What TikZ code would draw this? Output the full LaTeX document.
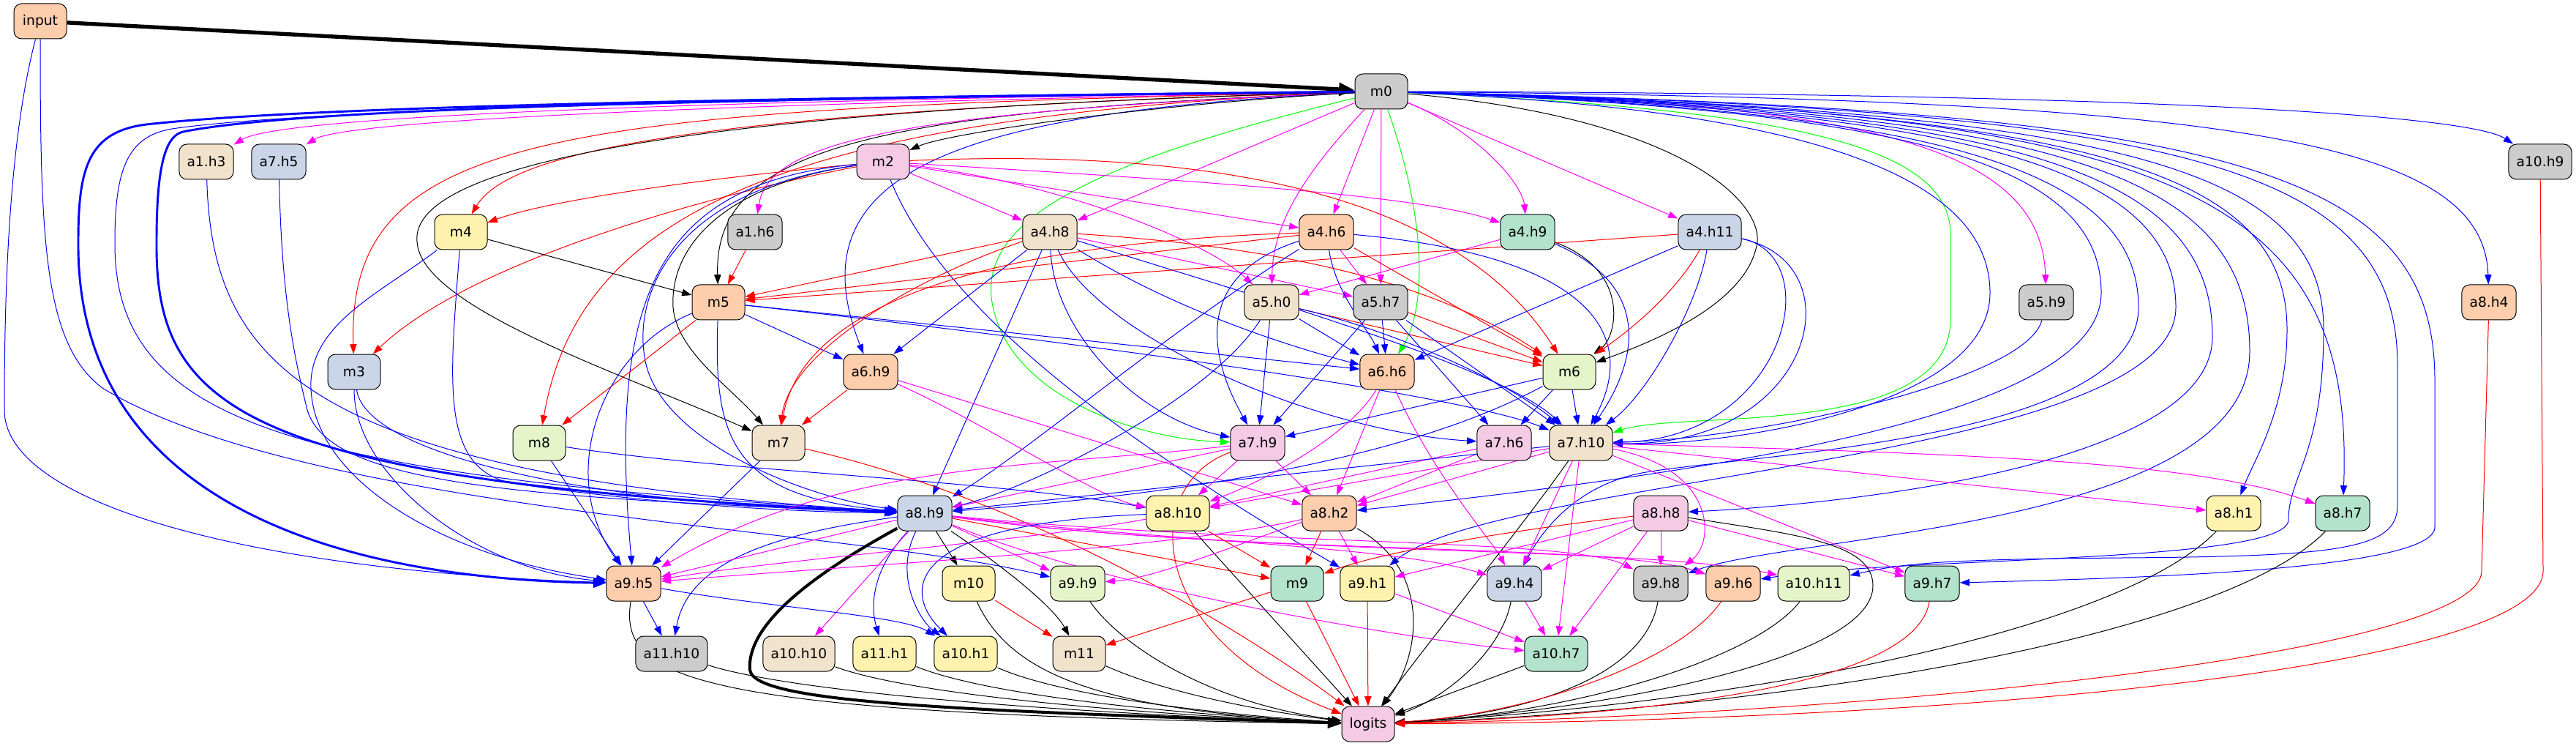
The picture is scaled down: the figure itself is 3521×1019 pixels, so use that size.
\documentclass[tikz,border=0pt]{standalone}
\usepackage{fontspec}
\setmainfont{DejaVu Sans}
\usepackage{xcolor}
\usepackage{tikz}
\usetikzlibrary{arrows.meta}
\usetikzlibrary{backgrounds}
\definecolor{pmint}{HTML}{B3E2CD}
\definecolor{ppeach}{HTML}{FDCDAC}
\definecolor{pblue}{HTML}{CBD5E8}
\definecolor{ppink}{HTML}{F4CAE4}
\definecolor{plime}{HTML}{E6F5C9}
\definecolor{pyellow}{HTML}{FFF2AE}
\definecolor{pbeige}{HTML}{F1E2CC}
\definecolor{pgrey}{HTML}{CCCCCC}
\definecolor{ered}{HTML}{FF0000}
\definecolor{eblue}{HTML}{0000FF}
\definecolor{emag}{HTML}{FF00FF}
\definecolor{egreen}{HTML}{00FF00}

\begin{document}
\begin{tikzpicture}[
    x=0.75pt, y=-0.75pt,
    every node/.style={font=\fontsize{14}{16}\selectfont},
    hd/.style={draw, line width=0.75pt, rounded corners=8pt,
      minimum width=54pt, minimum height=36pt, inner xsep=8pt},
    arr/.style={-{Triangle[length=10pt, width=7pt]}, line width=0.75pt},
    arrk/.style={arr, black},
    arrr/.style={arr, ered},
    arrb/.style={arr, eblue},
    arrm/.style={arr, emag},
    arrg/.style={arr, egreen},
    heavy/.style={line width=2.2pt, -{Triangle[length=13pt, width=10pt]}},
  ]
  \useasboundingbox (0,0) rectangle (3521,1019);

  % ── Nodes ────────────────────────────────────────────────────────────────

  % Level 0
  \node[hd, fill=ppeach]  (input)  at (55,29)     {input};

  % Level 1
  \node[hd, fill=pgrey]   (m0)     at (1888,125)  {m0};

  % Level 2
  \node[hd, fill=pbeige]  (a1h3)   at (282,221)   {a1.h3};
  \node[hd, fill=pblue]   (a7h5)   at (381,221)   {a7.h5};
  \node[hd, fill=ppink]   (m2)     at (1207,221)  {m2};
  \node[hd, fill=pgrey]   (a10h9)  at (3472,221)  {a10.h9};

  % Level 3
  \node[hd, fill=pyellow] (m4)     at (630,317)   {m4};
  \node[hd, fill=pgrey]   (a1h6)   at (1032,317)  {a1.h6};
  \node[hd, fill=pbeige]  (a4h8)   at (1435,317)  {a4.h8};
  \node[hd, fill=ppeach]  (a4h6)   at (1813,317)  {a4.h6};
  \node[hd, fill=pmint]   (a4h9)   at (2088,317)  {a4.h9};
  \node[hd, fill=pblue]   (a4h11)  at (2337,317)  {a4.h11};

  % Level 4
  \node[hd, fill=ppeach]  (m5)     at (982,413)   {m5};
  \node[hd, fill=pbeige]  (a5h0)   at (1738,413)  {a5.h0};
  \node[hd, fill=pgrey]   (a5h7)   at (1887,413)  {a5.h7};
  \node[hd, fill=pgrey]   (a5h9)   at (2797,413)  {a5.h9};
  \node[hd, fill=ppeach]  (a8h4)   at (3402,413)  {a8.h4};

  % Level 5
  \node[hd, fill=pblue]   (m3)     at (484,508)   {m3};
  \node[hd, fill=ppeach]  (a6h9)   at (1190,508)  {a6.h9};
  \node[hd, fill=ppeach]  (a6h6)   at (1896,508)  {a6.h6};
  \node[hd, fill=plime]   (m6)     at (2145,508)  {m6};

  % Level 6
  \node[hd, fill=plime]   (m8)     at (737,605)   {m8};
  \node[hd, fill=pbeige]  (m7)     at (1064,605)  {m7};
  \node[hd, fill=ppink]   (a7h9)   at (1719,605)  {a7.h9};
  \node[hd, fill=ppink]   (a7h6)   at (2056,605)  {a7.h6};
  \node[hd, fill=pbeige]  (a7h10)  at (2161,605)  {a7.h10};

  % Level 7
  \node[hd, fill=pblue]   (a8h9)   at (1264,701)  {a8.h9};
  \node[hd, fill=pyellow] (a8h10)  at (1610,701)  {a8.h10};
  \node[hd, fill=ppeach]  (a8h2)   at (1817,701)  {a8.h2};
  \node[hd, fill=ppink]   (a8h8)   at (2270,701)  {a8.h8};
  \node[hd, fill=pyellow] (a8h1)   at (3053,701)  {a8.h1};
  \node[hd, fill=pmint]   (a8h7)   at (3202,701)  {a8.h7};

  % Level 8
  \node[hd, fill=ppeach]  (a9h5)   at (866,797)   {a9.h5};
  \node[hd, fill=pyellow] (m10)    at (1324,797)  {m10};
  \node[hd, fill=plime]   (a9h9)   at (1473,797)  {a9.h9};
  \node[hd, fill=pmint]   (m9)     at (1773,797)  {m9};
  \node[hd, fill=pyellow] (a9h1)   at (1869,797)  {a9.h1};
  \node[hd, fill=pblue]   (a9h4)   at (2070,797)  {a9.h4};
  \node[hd, fill=pgrey]   (a9h8)   at (2270,797)  {a9.h8};
  \node[hd, fill=ppeach]  (a9h6)   at (2369,797)  {a9.h6};
  \node[hd, fill=plime]   (a10h11) at (2479,797)  {a10.h11};
  \node[hd, fill=pmint]   (a9h7)   at (2641,797)  {a9.h7};

  % Level 9
  \node[hd, fill=pgrey]   (a11h10) at (918,893)   {a11.h10};
  \node[hd, fill=pbeige]  (a10h10) at (1092,893)  {a10.h10};
  \node[hd, fill=pyellow] (a11h1)  at (1209,893)  {a11.h1};
  \node[hd, fill=pyellow] (a10h1)  at (1320,893)  {a10.h1};
  \node[hd, fill=pbeige]  (m11)    at (1475,893)  {m11};
  \node[hd, fill=pmint]   (a10h7)  at (2127,893)  {a10.h7};

  % Level 10
  \node[hd, fill=ppink]   (logits) at (1870,989)  {logits};

  % ── Edges ────────────────────────────────────────────────────────────────

  \begin{scope}[on background layer]

  % input
  \draw[arrk, line width=4pt, -{Triangle[length=16pt, width=13pt]}] (input) -- (m0);
  \draw[arrb] (input) .. controls (10,200) and (6,420) .. (6,560) .. controls (6,690) and (350,780) .. (a9h5);
  \draw[arrb] (input) .. controls (55,330) and (60,470) .. (140,530) .. controls (420,700) and (1150,720) .. (a9h9);

  % m0 → left side
  \draw[arrm] (m0) .. controls (900,138) and (380,160) .. (a1h3);
  \draw[arrm] (m0) .. controls (950,142) and (470,165) .. (a7h5);
  \draw[arrr] (m0) .. controls (1000,150) and (700,200) .. (m4);
  \draw[arrr] (m0) .. controls (750,148) and (474,180) .. (m3);
  \draw[arrk] (m0) .. controls (1200,152) and (975,200) .. (m5);
  \draw[arrk] (m0) .. controls (900,150) and (560,230) .. (570,330) .. controls (575,420) and (850,510) .. (m7);
  \draw[arrr] (m0) .. controls (1050,158) and (790,300) .. (m8);
  \draw[arrm] (m0) .. controls (1250,152) and (1050,190) .. (a1h6);
  \draw[arrb] (m0) .. controls (1320,152) and (1080,230) .. (a6h9);
  \draw[arrb, heavy] (m0) .. controls (900,135) and (400,150) .. (250,180) .. controls (225,186) and (214,230) .. (214,330) .. controls (212,560) and (330,660) .. (a8h9);
  \draw[arrb] (m0) .. controls (900,137) and (400,152) .. (235,176) .. controls (175,186) and (157,230) .. (157,330) .. controls (155,580) and (400,650) .. (a8h9);
  \draw[arrb, heavy] (m0) .. controls (900,135) and (400,148) .. (200,170) .. controls (120,180) and (107,230) .. (107,330) .. controls (104,680) and (450,790) .. (a9h5);

  % m0 → middle
  \draw[arrk] (m0) .. controls (1600,140) and (1300,180) .. (m2);
  \draw[arrm] (m0) -- (a4h8);
  \draw[arrm] (m0) .. controls (1790,230) and (1740,300) .. (a5h0);
  \draw[arrm] (m0) -- (a4h6);
  \draw[arrm] (m0) -- (a5h7);
  \draw[arrg] (m0) .. controls (1950,300) and (1950,420) .. (a6h6);
  \draw[arrm] (m0) .. controls (2020,180) and (2080,250) .. (a4h9);
  \draw[arrm] (m0) -- (a4h11);
  \draw[arrk] (m0) .. controls (2300,160) and (2420,280) .. (2400,340) .. controls (2380,420) and (2250,470) .. (m6);
  \draw[arrg] (m0) .. controls (1500,220) and (1320,300) .. (1360,430) .. controls (1390,540) and (1550,600) .. (a7h9);
  \draw[arrg] (m0) .. controls (2450,150) and (2666,200) .. (2666,320) -- (2666,440) .. controls (2660,600) and (2300,560) .. (a7h10);

  % m0 → right side (down the right and back)
  \draw[arrm] (m0) .. controls (2550,140) and (2790,200) .. (a5h9);
  \draw[arrb] (m0) .. controls (3050,135) and (3395,190) .. (a8h4);
  \draw[arrb] (m0) .. controls (3000,128) and (3380,160) .. (a10h9);
  \draw[arrb] (m0) .. controls (2500,150) and (2720,250) .. (2720,400) .. controls (2720,560) and (2350,610) .. (a7h10);
  \draw[arrb] (m0) .. controls (2600,150) and (2872,220) .. (2872,400) .. controls (2872,560) and (2400,640) .. (a8h2);
  \draw[arrb] (m0) .. controls (2650,150) and (2923,230) .. (2923,420) .. controls (2923,600) and (2400,620) .. (2250,645) .. controls (2160,660) and (2110,720) .. (a9h4);
  \draw[arrb] (m0) .. controls (2700,150) and (2974,230) .. (2974,420) .. controls (2974,630) and (2050,650) .. (a9h1);
  \draw[arrb] (m0) .. controls (2750,150) and (3024,230) .. (3024,460) .. controls (3024,640) and (2500,690) .. (a8h8);
  \draw[arrb] (m0) .. controls (2800,150) and (3075,230) .. (3075,480) .. controls (3075,720) and (2450,730) .. (a9h8);
  \draw[arrb] (m0) .. controls (2850,150) and (3126,230) .. (3126,450) .. controls (3126,560) and (3080,630) .. (a8h1);
  \draw[arrb] (m0) .. controls (2900,150) and (3176,230) .. (3176,450) .. controls (3176,620) and (3128,650) .. (3128,710) .. controls (3128,770) and (2600,760) .. (a9h6);
  \draw[arrb] (m0) .. controls (2950,150) and (3220,250) .. (a8h7);
  \draw[arrb] (m0) .. controls (3000,150) and (3277,230) .. (3277,500) -- (3277,690) .. controls (3277,750) and (3200,760) .. (2900,762) .. controls (2650,764) and (2600,770) .. (a10h11);
  \draw[arrb] (m0) .. controls (3050,150) and (3328,230) .. (3328,520) -- (3328,720) .. controls (3328,780) and (2900,790) .. (a9h7);

  % m2
  \draw[arrr] (m2) .. controls (1000,240) and (760,270) .. (m4);
  \draw[arrr] (m2) .. controls (1000,260) and (650,350) .. (m3);
  \draw[arrk] (m2) .. controls (1000,250) and (915,330) .. (920,420) .. controls (925,480) and (1000,530) .. (m7);
  \draw[arrb] (m2) .. controls (900,250) and (830,400) .. (a9h5);
  \draw[arrb] (m2) .. controls (920,260) and (870,400) .. (880,480) .. controls (890,600) and (1100,680) .. (a8h9);
  \draw[arrb] (m2) .. controls (1300,450) and (1600,640) .. (a9h1);
  \draw[arrm] (m2) -- (a4h8);
  \draw[arrm] (m2) -- (a4h6);
  \draw[arrm] (m2) .. controls (1700,250) and (1950,270) .. (a4h9);
  \draw[arrm] (m2) .. controls (1450,250) and (1650,330) .. (a5h0);
  \draw[arrr] (m2) .. controls (1700,200) and (2000,280) .. (m6);

  % upper left heads and MLPs
  \draw[arrb] (a1h3) .. controls (290,500) and (420,650) .. (a8h9);
  \draw[arrb] (a7h5) .. controls (385,400) and (400,480) .. (420,560) .. controls (450,660) and (700,680) .. (a8h9);
  \draw[arrr] (a1h6) -- (m5);
  \draw[arrk] (m4) -- (m5);
  \draw[arrb] (m4) .. controls (520,400) and (430,440) .. (425,520) .. controls (420,650) and (600,760) .. (a9h5);
  \draw[arrb] (m4) .. controls (615,520) and (600,640) .. (700,660) .. controls (900,690) and (1100,700) .. (a8h9);
  \draw[arrb] (m3) .. controls (484,650) and (650,780) .. (a9h5);
  \draw[arrb] (m3) .. controls (500,620) and (800,690) .. (a8h9);
  \draw[arrb] (m8) -- (a9h5);
  \draw[arrb] (m8) .. controls (1000,645) and (1350,655) .. (a8h10);

  % m5
  \draw[arrr] (m5) -- (m8);
  \draw[arrb] (m5) .. controls (820,480) and (760,650) .. (a9h5);
  \draw[arrb] (m5) -- (a6h9);
  \draw[arrb] (m5) -- (a6h6);
  \draw[arrb] (m5) .. controls (1500,470) and (2000,540) .. (a7h10);
  \draw[arrb] (m5) .. controls (975,600) and (1000,680) .. (a8h9);

  % a4.h8
  \draw[arrr] (a4h8) -- (m5);
  \draw[arrr] (a4h8) .. controls (1250,380) and (1080,480) .. (m7);
  \draw[arrr] (a4h8) .. controls (1800,340) and (1980,400) .. (m6);
  \draw[arrm] (a4h8) -- (a5h7);
  \draw[arrb] (a4h8) -- (a6h9);
  \draw[arrb] (a4h8) -- (a8h9);
  \draw[arrb] (a4h8) .. controls (1440,450) and (1550,570) .. (a7h9);
  \draw[arrb] (a4h8) .. controls (1500,460) and (1800,590) .. (a7h6);
  \draw[arrb] (a4h8) .. controls (1700,400) and (2050,500) .. (a7h10);
  \draw[arrb] (a4h8) .. controls (1600,420) and (1750,470) .. (a6h6);

  % a4.h6
  \draw[arrr] (a4h6) -- (m5);
  \draw[arrr] (a4h6) .. controls (1400,330) and (1100,400) .. (m7);
  \draw[arrr] (a4h6) -- (m6);
  \draw[arrm] (a4h6) -- (a5h7);
  \draw[arrb] (a4h6) .. controls (1825,400) and (1870,450) .. (a6h6);
  \draw[arrb] (a4h6) .. controls (1620,380) and (1660,500) .. (a7h9);
  \draw[arrb] (a4h6) .. controls (2180,350) and (2240,460) .. (a7h10);
  \draw[arrb] (a4h6) .. controls (1600,450) and (1400,620) .. (a8h9);

  % a4.h9, a4.h11
  \draw[arrm] (a4h9) -- (a5h0);
  \draw[arrk] (a4h9) .. controls (2230,370) and (2210,460) .. (m6);
  \draw[arrb] (a4h9) .. controls (2280,400) and (2220,520) .. (a7h10);
  \draw[arrr] (a4h11) -- (m5);
  \draw[arrr] (a4h11) .. controls (2290,400) and (2230,450) .. (m6);
  \draw[arrb] (a4h11) -- (a6h6);
  \draw[arrb] (a4h11) .. controls (2320,420) and (2250,540) .. (a7h10);
  \draw[arrb] (a4h11) .. controls (2500,350) and (2440,600) .. (a7h10);
  \draw[arrb] (a4h11) .. controls (2540,360) and (2480,610) .. (a7h10);

  % a5.h0, a5.h7, a5.h9
  \draw[arrr] (a5h0) -- (m6);
  \draw[arrb] (a5h0) -- (a6h6);
  \draw[arrb] (a5h0) -- (a7h9);
  \draw[arrb] (a5h0) .. controls (1900,450) and (2060,520) .. (a7h10);
  \draw[arrb] (a5h0) .. controls (1650,550) and (1400,670) .. (a8h9);
  \draw[arrr] (a5h7) -- (m6);
  \draw[arrb] (a5h7) -- (a6h6);
  \draw[arrb] (a5h7) -- (a7h9);
  \draw[arrb] (a5h7) -- (a7h6);
  \draw[arrb] (a5h7) -- (a7h10);
  \draw[arrb] (a5h9) .. controls (2770,520) and (2400,600) .. (a7h10);

  % a6.h9, a6.h6, m6
  \draw[arrr] (a6h9) -- (m7);
  \draw[arrm] (a6h9) .. controls (1350,580) and (1500,680) .. (a8h10);
  \draw[arrm] (a6h9) -- (a8h2);
  \draw[arrm] (a6h6) .. controls (1840,600) and (1720,660) .. (a8h10);
  \draw[arrm] (a6h6) -- (a8h2);
  \draw[arrm] (a6h6) .. controls (1960,650) and (2040,740) .. (a9h4);
  \draw[arrb] (m6) -- (a7h9);
  \draw[arrb] (m6) -- (a7h6);
  \draw[arrb] (m6) -- (a7h10);
  \draw[arrb] (m6) .. controls (1900,640) and (1550,680) .. (a8h9);

  % m7, a7.h9, a7.h6
  \draw[arrb] (m7) -- (a9h5);
  \draw[arrr] (m7) .. controls (1400,680) and (1700,860) .. (logits);
  \draw[arrm] (a7h9) -- (a8h10);
  \draw[arrm] (a7h9) -- (a8h2);
  \draw[arrm] (a7h9) -- (a8h9);
  \draw[arrm] (a7h9) .. controls (1400,640) and (1150,630) .. (a9h5);
  \draw[arrr] (a7h9) .. controls (1560,660) and (1560,870) .. (logits);
  \draw[arrm] (a7h6) -- (a8h10);
  \draw[arrm] (a7h6) -- (a8h2);

  % a7.h10
  \draw[arrk] (a7h10) .. controls (2080,720) and (1950,880) .. (logits);
  \draw[arrm] (a7h10) -- (a8h10);
  \draw[arrm] (a7h10) -- (a8h2);
  \draw[arrb] (a7h10) -- (a8h9);
  \draw[arrm] (a7h10) -- (a9h4);
  \draw[arrm] (a7h10) -- (a10h7);
  \draw[arrm] (a7h10) .. controls (2345,640) and (2345,740) .. (a9h8);
  \draw[arrm] (a7h10) -- (a9h7);
  \draw[arrm] (a7h10) -- (a8h1);
  \draw[arrm] (a7h10) .. controls (2700,620) and (3000,630) .. (a8h7);

  % a8.h9
  \draw[arrk, line width=3pt, -{Triangle[length=14pt, width=11pt]}] (a8h9) .. controls (1120,780) and (1020,850) .. (1025,915) .. controls (1030,960) and (1300,970) .. (logits);
  \draw[arrk] (a8h9) -- (m10);
  \draw[arrk] (a8h9) .. controls (1380,780) and (1440,830) .. (m11);
  \draw[arrm] (a8h9) -- (a9h9);
  \draw[arrr] (a8h9) -- (m9);
  \draw[arrm] (a8h9) .. controls (1600,740) and (1900,745) .. (a9h4);
  \draw[arrm] (a8h9) .. controls (1700,745) and (2150,735) .. (a9h8);
  \draw[arrm] (a8h9) .. controls (1700,760) and (2200,740) .. (a9h6);
  \draw[arrm] (a8h9) .. controls (1700,760) and (2250,745) .. (a10h11);
  \draw[arrm] (a8h9) .. controls (1500,800) and (1900,870) .. (a10h7);
  \draw[arrb] (a8h9) .. controls (1220,790) and (1260,850) .. (a10h1);
  \draw[arrb] (a8h9) .. controls (1190,780) and (1190,830) .. (a11h1);
  \draw[arrb] (a8h9) .. controls (1050,730) and (940,770) .. (a11h10);
  \draw[arrm] (a8h9) -- (a10h10);
  \draw[arrm] (a8h9) -- (a9h5);

  % a8.h10, a8.h2, a8.h8
  \draw[arrr] (a8h10) -- (m9);
  \draw[arrk] (a8h10) -- (logits);
  \draw[arrm] (a8h10) .. controls (1400,740) and (1100,760) .. (a9h5);
  \draw[arrb] (a8h10) .. controls (1230,715) and (1235,810) .. (a10h1);
  \draw[arrr] (a8h2) -- (m9);
  \draw[arrm] (a8h2) -- (a9h1);
  \draw[arrm] (a8h2) .. controls (1700,740) and (1580,790) .. (a9h9);
  \draw[arrm] (a8h2) .. controls (1600,750) and (1200,770) .. (a9h5);
  \draw[arrk] (a8h2) .. controls (1960,780) and (1940,900) .. (logits);
  \draw[arrr] (a8h8) .. controls (2100,720) and (1900,750) .. (m9);
  \draw[arrm] (a8h8) -- (a9h1);
  \draw[arrm] (a8h8) -- (a9h4);
  \draw[arrm] (a8h8) -- (a10h7);
  \draw[arrm] (a8h8) -- (a9h8);
  \draw[arrm] (a8h8) -- (a9h7);
  \draw[arrk] (a8h8) .. controls (2450,730) and (2560,740) .. (2560,800) .. controls (2560,900) and (2200,970) .. (logits);

  % right column into logits
  \draw[arrk] (a8h1) .. controls (2900,860) and (2400,960) .. (logits);
  \draw[arrk] (a8h7) .. controls (3050,860) and (2500,965) .. (logits);
  \draw[arrr] (a8h4) -- (3392,780) .. controls (3392,890) and (2600,975) .. (logits);
  \draw[arrr] (a10h9) -- (3476,780) .. controls (3476,910) and (2700,985) .. (logits);

  % Level 8 outputs
  \draw[arrb] (a9h5) -- (a11h10);
  \draw[arrb] (a9h5) .. controls (1050,830) and (1230,840) .. (a10h1);
  \draw[arrk] (a9h5) .. controls (845,930) and (950,975) .. (logits);
  \draw[arrr] (m10) -- (m11);
  \draw[arrk] (m10) .. controls (1380,920) and (1500,970) .. (logits);
  \draw[arrk] (a9h9) .. controls (1530,880) and (1650,960) .. (logits);
  \draw[arrr] (m9) -- (m11);
  \draw[arrr] (m9) -- (logits);
  \draw[arrr] (a9h1) -- (logits);
  \draw[arrm] (a9h1) -- (a10h7);
  \draw[arrk] (a9h4) .. controls (2050,900) and (1960,960) .. (logits);
  \draw[arrm] (a9h4) -- (a10h7);
  \draw[arrk] (a9h8) .. controls (2250,920) and (2100,975) .. (logits);
  \draw[arrr] (a9h6) .. controls (2300,900) and (2100,975) .. (logits);
  \draw[arrk] (a10h11) .. controls (2400,900) and (2150,975) .. (logits);
  \draw[arrr] (a9h7) .. controls (2620,930) and (2300,975) .. (logits);

  % Level 9 outputs
  \draw[arrk] (a11h10) .. controls (1100,950) and (1500,975) .. (logits);
  \draw[arrk] (a10h10) .. controls (1250,950) and (1550,975) .. (logits);
  \draw[arrk] (a11h1) .. controls (1350,950) and (1600,975) .. (logits);
  \draw[arrk] (a10h1) .. controls (1450,950) and (1650,975) .. (logits);
  \draw[arrk] (m11) .. controls (1600,950) and (1750,975) .. (logits);
  \draw[arrk] (a10h7) -- (logits);

  \end{scope}

\end{tikzpicture}
\end{document}
